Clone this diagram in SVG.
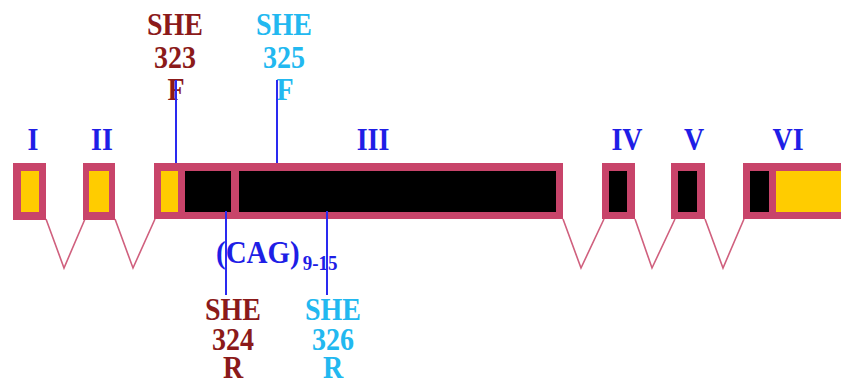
<svg xmlns="http://www.w3.org/2000/svg" width="841" height="388" viewBox="0 0 841 388">
<style>
.exon{fill:#C8446A}
.utr{fill:#FFCC00}
.cds{fill:#000}
.intron{fill:none;stroke:#D0607E;stroke-width:1.6}
.primer{stroke:#2A2AF0;stroke-width:2}
.lbl{font-family:"Liberation Serif",serif;font-weight:bold;font-size:28px;fill:#1E1EE6;text-anchor:middle}
.p{font-family:"Liberation Serif",serif;font-weight:bold;font-size:28px;text-anchor:middle}
.dr{fill:#8B1A1A}
.cy{fill:#22B8F0}
</style>
<rect width="841" height="388" fill="#fff"/>
<g id="connectors">
<polyline class="intron" points="46,219 64,268 85,219"/>
<polyline class="intron" points="115,219 133,268 155,219"/>
<polyline class="intron" points="563,219 581,268 604,219"/>
<polyline class="intron" points="635,219 652,268 675,219"/>
<polyline class="intron" points="705,219 723,268 744,219"/>
</g>
<g id="exon1"><rect class="exon" x="13" y="163" width="33" height="57"/><rect class="utr" x="21" y="171" width="18" height="41"/></g>
<g id="exon2"><rect class="exon" x="83" y="163" width="32" height="57"/><rect class="utr" x="89" y="171" width="20" height="41"/></g>
<g id="exon3"><rect class="exon" x="154" y="163" width="409" height="56"/><rect class="utr" x="161" y="171" width="17" height="41"/><rect class="cds" x="185" y="171" width="46" height="41"/><rect class="cds" x="239" y="171" width="317" height="41"/></g>
<g id="exon4"><rect class="exon" x="602" y="163" width="33" height="56"/><rect class="cds" x="609" y="171" width="18" height="41"/></g>
<g id="exon5"><rect class="exon" x="671" y="163" width="34" height="56"/><rect class="cds" x="678" y="171" width="19" height="41"/></g>
<g id="exon6"><rect class="exon" x="743" y="163" width="98" height="56"/><rect class="cds" x="750" y="171" width="19" height="41"/><rect class="utr" x="776" y="171" width="65" height="41"/></g>
<g id="labels" transform="matrix(1,0,0,1.1,0,-15)">
<text class="lbl" x="33" y="150">I</text>
<text class="lbl" x="102" y="150">II</text>
<text class="lbl" x="373" y="150">III</text>
<text class="lbl" x="627" y="150">IV</text>
<text class="lbl" x="694" y="150">V</text>
<text class="lbl" x="788" y="150">VI</text>
</g>
<g id="primer323">
<text class="p dr" x="175" y="35" transform="matrix(1,0,0,1.15,0,-5.25)">SHE</text>
<text class="p dr" x="175" y="68" transform="matrix(1,0,0,1.15,0,-10.2)">323</text>
<text class="p dr" x="176" y="100" transform="matrix(1,0,0,1.15,0,-15)">F</text>
<line class="primer" x1="176" y1="80" x2="176" y2="163"/>
</g>
<g id="primer325">
<text class="p cy" x="284" y="35" transform="matrix(1,0,0,1.15,0,-5.25)">SHE</text>
<text class="p cy" x="284" y="68" transform="matrix(1,0,0,1.15,0,-10.2)">325</text>
<text class="p cy" x="285" y="100" transform="matrix(1,0,0,1.15,0,-15)">F</text>
<line class="primer" x1="277" y1="80" x2="277" y2="163"/>
</g>
<g id="cag">
<text font-family="Liberation Serif, serif" font-weight="bold" font-size="29" fill="#1E1EE6" x="216" y="263" transform="matrix(1,0,0,1.1,0,-26.3)">(CAG)<tspan font-size="19" dx="3" dy="6">9-15</tspan></text>
</g>
<g id="primer324">
<line class="primer" x1="226" y1="211" x2="226" y2="295"/>
<text class="p dr" x="233" y="320" transform="matrix(1,0,0,1.15,0,-48)">SHE</text>
<text class="p dr" x="233" y="350" transform="matrix(1,0,0,1.15,0,-52.5)">324</text>
<text class="p dr" x="233" y="378" transform="matrix(1,0,0,1.15,0,-56.7)">R</text>
</g>
<g id="primer326">
<line class="primer" x1="327" y1="211" x2="327" y2="295"/>
<text class="p cy" x="333" y="320" transform="matrix(1,0,0,1.15,0,-48)">SHE</text>
<text class="p cy" x="333" y="350" transform="matrix(1,0,0,1.15,0,-52.5)">326</text>
<text class="p cy" x="333" y="378" transform="matrix(1,0,0,1.15,0,-56.7)">R</text>
</g>
</svg>
